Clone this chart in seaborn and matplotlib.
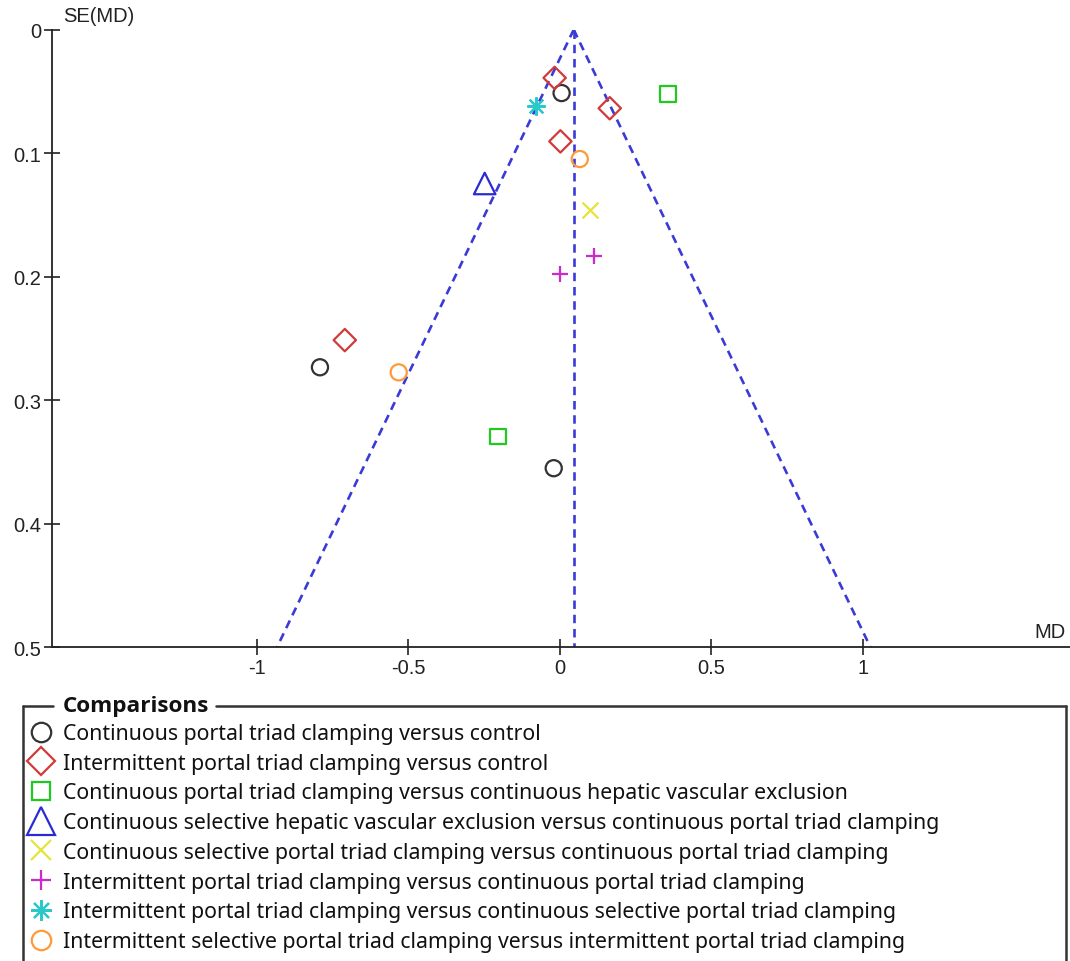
import matplotlib
matplotlib.use("Agg")
import matplotlib.pyplot as plt
from matplotlib.lines import Line2D
import numpy as np
import pandas as pd
import seaborn as sns

# Study-level mean differences and their standard errors, one list per comparison
comparisons = [
    "Continuous portal triad clamping versus control",
    "Intermittent portal triad clamping versus control",
    "Continuous portal triad clamping versus continuous hepatic vascular exclusion",
    "Continuous selective hepatic vascular exclusion versus continuous portal triad clamping",
    "Continuous selective portal triad clamping versus continuous portal triad clamping",
    "Intermittent portal triad clamping versus continuous portal triad clamping",
    "Intermittent portal triad clamping versus continuous selective portal triad clamping",
    "Intermittent selective portal triad clamping versus intermittent portal triad clamping",
]
md_values = [
    [0.006, -0.792, -0.020],
    [-0.017, 0.165, 0.002, -0.710],
    [0.356, -0.204],
    [-0.248],
    [0.099],
    [0.112, 0.002],
    [-0.077],
    [0.066, -0.532],
]
se_values = [
    [0.0513, 0.2733, 0.355],
    [0.039, 0.0636, 0.0904, 0.2513],
    [0.052, 0.3293],
    [0.1245],
    [0.1463],
    [0.1835, 0.198],
    [0.062],
    [0.1047, 0.2774],
]
pooled_md = 0.046
se_max = 0.5

x_ticks = [-1, -0.5, 0, 0.5, 1]
x_tick_labels = ["-1", "-0.5", "0", "0.5", "1"]
y_ticks = [0, 0.1, 0.2, 0.3, 0.4, 0.5]
y_tick_labels = ["0", "0.1", "0.2", "0.3", "0.4", "0.5"]

# Marker style per comparison
colors = ["#333333", "#d23a3a", "#22c822", "#2a2ad2", "#e4e43a", "#cc2acc", "#2ac8c8", "#ff9a3a"]
markers = ["o", "D", "s", "^", "x", "+", (8, 2, 0), "o"]
sizes = [135, 130, 130, 240, 130, 140, 150, 135]
legend_ms = [14, 14.5, 13, 20, 14, 15, 15, 14]
filled = [True, True, True, True, False, False, False, True]

rows = []
for name, mds, ses in zip(comparisons, md_values, se_values):
    for m, s in zip(mds, ses):
        rows.append({"comparison": name, "MD": m, "SE": s})
df = pd.DataFrame(rows)

sns.set_style("white")
plt.rcParams["font.family"] = ["Liberation Sans", "DejaVu Sans"]

W, H = 1070, 962
fig = plt.figure(figsize=(W / 100, H / 100), dpi=100)
ax = fig.add_axes([52 / W, 1 - 648.3 / H, (W - 52) / W, (648.3 - 30.7) / H])

# Funnel: pooled estimate and 95% pseudo-confidence limits
se_line = np.array([0.0, se_max])
funnel_kw = dict(color="#3a3ad6", lw=1.9, dashes=(3.2, 2.2), zorder=1)
ax.plot([pooled_md, pooled_md], se_line, **funnel_kw)
ax.plot(pooled_md - 1.96 * se_line, se_line, **funnel_kw)
ax.plot(pooled_md + 1.96 * se_line, se_line, **funnel_kw)

for name, col, mk, sz, fl in zip(comparisons, colors, markers, sizes, filled):
    sub = df[df["comparison"] == name]
    if fl:
        sns.scatterplot(data=sub, x="MD", y="SE", ax=ax, marker=mk, s=sz,
                        facecolor="none", edgecolor=col, linewidth=1.6,
                        legend=False, zorder=3)
    else:
        sns.scatterplot(data=sub, x="MD", y="SE", ax=ax, marker=mk, s=sz,
                        color=col, linewidth=1.6, legend=False, zorder=3)

ax.set_xlim(-1.677, 1.685)
ax.set_ylim(se_max, 0)
ax.set_xticks(x_ticks)
ax.set_xticklabels(x_tick_labels)
ax.set_yticks(y_ticks)
ax.set_yticklabels(y_tick_labels)
ax.set_xlabel("")
ax.set_ylabel("")
ax.tick_params(bottom=True, left=True, direction="inout", length=11, width=1.2,
               colors="#222222", labelsize=14.5, pad=2)
for side in ["top", "right"]:
    ax.spines[side].set_visible(False)
for side in ["left", "bottom"]:
    ax.spines[side].set_color("#222222")
    ax.spines[side].set_linewidth(1.3)
ax.grid(False)

fig.text(63 / W, 1 - 17 / H, "SE(MD)", fontsize=14.5, color="#222222",
         ha="left", va="center")
fig.text(1066 / W, 1 - 632 / H, "MD", fontsize=14.5, color="#222222",
         ha="right", va="center")

# Legend of comparisons inside a group box
handles = []
for col, mk, ms, fl in zip(colors, markers, legend_ms, filled):
    if fl:
        h = Line2D([], [], ls="none", marker=mk, markersize=ms, markerfacecolor="none",
                   markeredgecolor=col, markeredgewidth=1.6)
    else:
        h = Line2D([], [], ls="none", marker=mk, markersize=ms, color=col,
                   markeredgewidth=1.6)
    handles.append(h)

leg_font = ["Noto Sans", "DejaVu Sans"]
leg = fig.legend(handles, comparisons, loc="upper left",
                 bbox_to_anchor=(28.25 / W, 1 - 724 / H), frameon=False,
                 prop={"family": leg_font, "size": 15.3},
                 handlelength=1.2, handletextpad=0.435, labelspacing=0.41,
                 borderpad=0, borderaxespad=0)
for t in leg.get_texts():
    t.set_color("#111111")

title = fig.text(63 / W, 1 - 707 / H, "Comparisons", fontsize=16.2,
                 fontweight="bold", family=["Open Sans", "Lato", "DejaVu Sans"],
                 color="#111111", ha="left", va="center")

fig.canvas.draw()
bb = title.get_window_extent(fig.canvas.get_renderer())
tx0, tx1 = bb.x0 / W, bb.x1 / W
box_top = 1 - 707 / H
box_left, box_right = 23 / W, 1065.7 / W
line_kw = dict(color="#333333", lw=1.8, transform=fig.transFigure)
fig.add_artist(Line2D([box_left, tx0 - 10 / W], [box_top, box_top], **line_kw))
fig.add_artist(Line2D([tx1 + 7 / W, box_right], [box_top, box_top], **line_kw))
fig.add_artist(Line2D([box_left, box_left], [box_top, 0], **line_kw))
fig.add_artist(Line2D([box_right, box_right], [box_top, 0], **line_kw))

fig.savefig("out.png", dpi=100, facecolor="white")
